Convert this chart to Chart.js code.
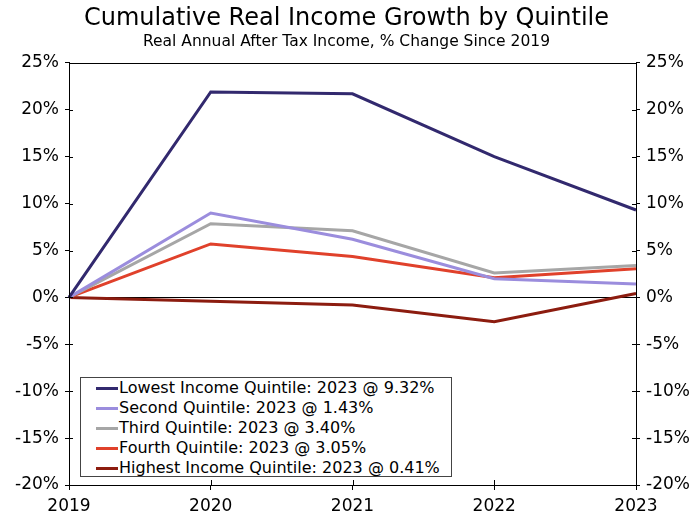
<!DOCTYPE html>
<html>
<head>
<meta charset="utf-8">
<script src="https://cdn.jsdelivr.net/npm/chart.js@4"></script>
<style>
  html, body { margin: 0; padding: 0; background: #fff; }
  #wrap { position: relative; width: 693px; height: 516px; }
  #legendBox {
    position: absolute; left: 80px; top: 377px; width: 372px; height: 100px;
    border: 1px solid #444; background: #fff;
    font-family: "DejaVu Sans", Verdana, sans-serif; font-size: 16px; color: #000;
    padding-top: 0px; box-sizing: border-box;
  }
  .row { height: 20px; line-height: 20px; white-space: nowrap; padding-left: 15px; }
  .sw { display: inline-block; width: 22px; height: 3px; vertical-align: middle; margin-right: 1px; }
</style>
</head>
<body>
<div id="wrap">
  <canvas id="myChart" width="693" height="516"></canvas>
  <div id="legendBox"></div>
</div>
<script>
var years = ['2019', '2020', '2021', '2022', '2023']

var lowest = [0, 21.9, 21.7, 15.0, 9.32]
var second = [0, 9.0, 6.2, 2.0, 1.43]
var third = [0, 7.85, 7.1, 2.6, 3.40]
var fourth = [0, 5.7, 4.35, 2.1, 3.05]
var highest = [0, -0.4, -0.8, -2.6, 0.41]

var names = ['Lowest Income Quintile', 'Second Quintile', 'Third Quintile', 'Fourth Quintile', 'Highest Income Quintile']
var colors = ['#32296e', '#9b8ddd', '#a6a6a6', '#e0412b', '#8c1c0f']
var series = [lowest, second, third, fourth, highest]

var FONT = '"DejaVu Sans", Verdana, sans-serif'

// legend entries: name + the 2023 value
var box = document.getElementById('legendBox')
for (let i = 0; i < names.length; i++) {
  let last = series[i][series[i].length - 1]
  let row = document.createElement('div')
  row.className = 'row'
  row.innerHTML = '<span class="sw" style="background:' + colors[i] + '"></span>' +
    names[i] + ': ' + years[years.length - 1] + ' @ ' + last.toFixed(2) + '%'
  box.appendChild(row)
}

// frame around the plot + inner half of the tick marks
const frame = {
  id: 'frame',
  afterDraw(chart) {
    const c = chart.ctx
    const a = chart.chartArea
    c.save()
    c.strokeStyle = '#000'
    c.lineWidth = 1
    c.strokeRect(Math.round(a.left) + 0.5, Math.round(a.top) + 0.5, Math.round(a.right - a.left), Math.round(a.bottom - a.top))
    const yl = chart.scales.y
    c.beginPath()
    yl.ticks.forEach((t, i) => {
      let py = Math.round(yl.getPixelForTick(i)) + 0.5
      c.moveTo(a.left, py); c.lineTo(a.left + 4, py)
      c.moveTo(a.right - 4, py); c.lineTo(a.right, py)
    })
    const xs = chart.scales.x
    xs.ticks.forEach((t, i) => {
      let px = Math.round(xs.getPixelForTick(i)) + 0.5
      c.moveTo(px, a.bottom); c.lineTo(px, a.bottom - 5)
    })
    c.stroke()
    c.restore()
  }
}

const ctx = document.getElementById('myChart').getContext('2d')
const myChart = new Chart(ctx, {
  type: 'line',
  data: {
    labels: years,
    datasets: series.map((d, i) => ({
      label: names[i],
      data: d,
      borderColor: colors[i],
      backgroundColor: colors[i],
      borderWidth: 3,
      pointRadius: 0,
      fill: false,
      tension: 0
    }))
  },
  options: {
    responsive: false,
    animation: false,
    layout: { padding: { top: 0, bottom: 0, left: 0, right: 0 } },
    plugins: {
      legend: { display: false },
      tooltip: { enabled: false },
      title: {
        display: true,
        text: 'Cumulative Real Income Growth by Quintile',
        color: '#000',
        font: { family: FONT, size: 24, weight: 'normal' },
        padding: { top: 4, bottom: 0 }
      },
      subtitle: {
        display: true,
        text: 'Real Annual After Tax Income, % Change Since 2019',
        color: '#000',
        font: { family: FONT, size: 15.5, weight: 'normal' },
        padding: { top: 0, bottom: 11.5 }
      }
    },
    scales: {
      x: {
        offset: false,
        grid: { drawOnChartArea: false, tickLength: 5, color: '#000' },
        border: { color: '#000' },
        ticks: { color: '#000', font: { family: FONT, size: 17 }, padding: 6, maxRotation: 0 },
        afterFit: function(s) { s.height = 31 }
      },
      y: {
        position: 'left',
        min: -20, max: 25,
        grid: {
          color: (c) => c.tick.value === 0 ? '#000' : 'transparent',
          tickColor: '#000', tickLength: 4
        },
        border: { color: '#000' },
        ticks: { stepSize: 5, color: '#000', font: { family: FONT, size: 17 }, padding: 6,
          callback: (v) => v + '%' },
        afterFit: function(s) { s.width = 69 }
      },
      y2: {
        position: 'right',
        min: -20, max: 25,
        grid: { drawOnChartArea: false, tickColor: '#000', tickLength: 4 },
        border: { color: '#000' },
        ticks: { stepSize: 5, color: '#000', font: { family: FONT, size: 17 }, padding: 6,
          callback: (v) => v + '%' },
        afterFit: function(s) { s.width = 57 }
      }
    }
  },
  plugins: [frame]
})
</script>
</body>
</html>
